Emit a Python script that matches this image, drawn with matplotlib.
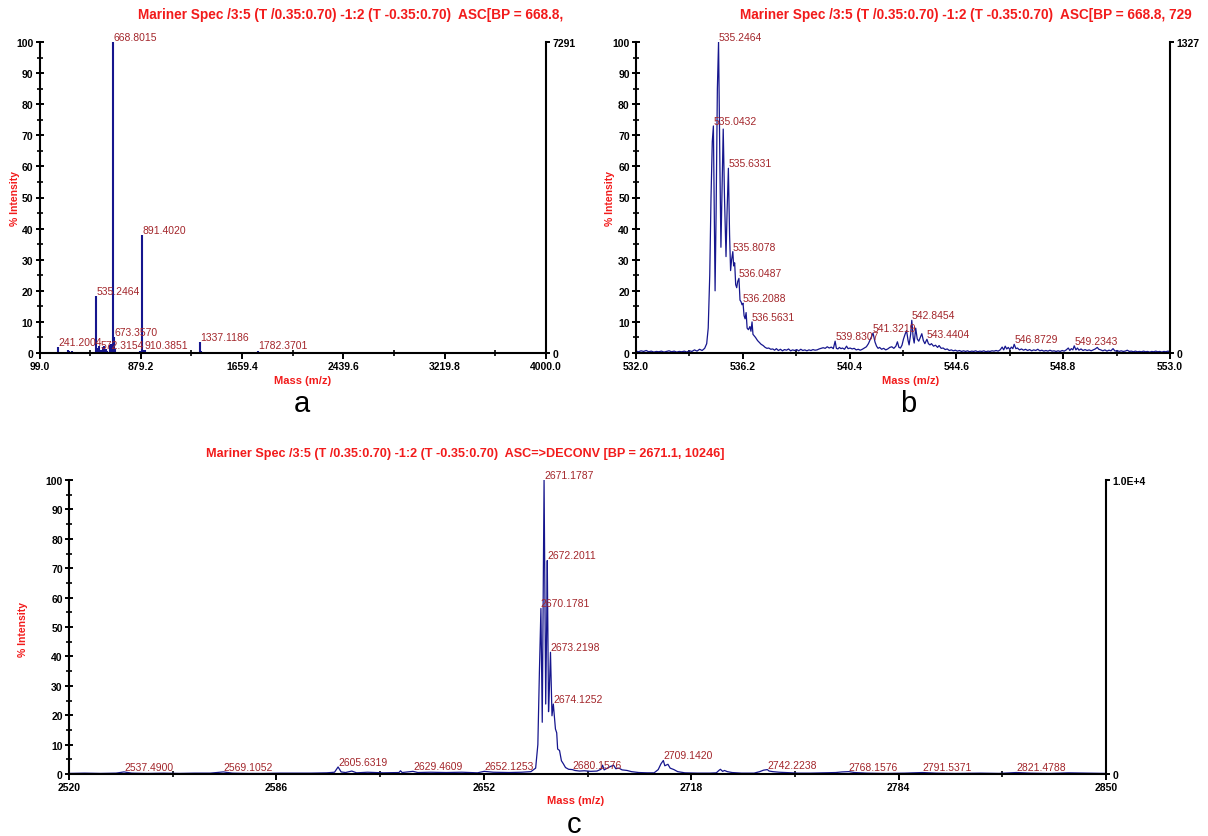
import numpy as np
import matplotlib
matplotlib.use("Agg")
import matplotlib.pyplot as plt
from matplotlib.ticker import FixedLocator, MultipleLocator

plt.rcParams['font.family'] = ['Liberation Sans', 'DejaVu Sans']

# ---------------- panel a: full-range centroid spectrum ----------------
a_title = "Mariner Spec /3:5 (T /0.35:0.70) -1:2 (T -0.35:0.70)  ASC[BP = 668.8,"
a_xlim = (99.0, 4000.0)
a_xticks = [99.0, 879.2, 1659.4, 2439.6, 3219.8, 4000.0]
a_right_label = "7291"
a_mz = [241.2004, 318.0, 330.0, 346.0, 392.0, 470.0, 535.2464, 541.0, 556.0,
        572.3154, 585.0, 597.0, 610.0, 622.0, 640.0, 652.0, 668.8015, 673.3570,
        680.0, 875.0, 891.4020, 897.0, 910.3851, 1337.1186, 1342.0, 1782.3701]
a_int = [1.8, 1.0, 0.7, 0.6, 0.3, 0.2, 18.4, 1.5, 2.4,
         1.0, 1.8, 2.2, 1.2, 0.8, 2.5, 3.0, 100.0, 5.0,
         1.2, 0.5, 37.9, 1.0, 1.0, 3.6, 0.6, 0.8]
a_labeled = [241.2004, 535.2464, 572.3154, 668.8015, 673.3570, 891.4020,
             910.3851, 1337.1186, 1782.3701]

# ---------------- panel b: zoom on the 535 isotope cluster ----------------
b_title = "Mariner Spec /3:5 (T /0.35:0.70) -1:2 (T -0.35:0.70)  ASC[BP = 668.8, 729"
b_xlim = (532.0, 553.0)
b_xticks = [532.0, 536.2, 540.4, 544.6, 548.8, 553.0]
b_right_label = "1327"
b_mz = [532.00, 532.10, 532.20, 532.30, 532.40, 532.50, 532.60, 532.70, 532.80, 532.90,
        533.00, 533.10, 533.20, 533.30, 533.40, 533.50, 533.60, 533.70, 533.80, 533.90,
        534.00, 534.10, 534.20, 534.30, 534.40, 534.50, 534.60, 534.70, 534.78, 534.84,
        534.90, 534.95, 535.00, 535.08, 535.11, 535.15, 535.20, 535.30, 535.34, 535.39,
        535.43, 535.48, 535.54, 535.58, 535.68, 535.72, 535.76, 535.84, 535.88, 535.92,
        535.96, 536.00, 536.09, 536.13, 536.17, 536.25, 536.29, 536.33, 536.37, 536.42,
        536.48, 536.52, 536.60, 536.65, 536.70, 536.78, 536.85, 536.92, 537.00, 537.08,
        537.15, 537.22, 537.30, 537.38, 537.45, 537.52, 537.60, 537.68, 537.76, 537.84,
        537.92, 538.00, 538.08, 538.16, 538.24, 538.32, 538.40, 538.48, 538.56, 538.64,
        538.72, 538.80, 538.88, 538.96, 539.04, 539.12, 539.20, 539.28, 539.36, 539.44,
        539.52, 539.60, 539.68, 539.76, 539.88, 539.94, 540.00, 540.06, 540.12, 540.20,
        540.28, 540.34, 540.42, 540.50, 540.58, 540.66, 540.74, 540.82, 540.90, 540.98,
        541.06, 541.14, 541.22, 541.40, 541.46, 541.52, 541.58, 541.66, 541.74, 541.82,
        541.90, 541.98, 542.06, 542.14, 542.22, 542.28, 542.34, 542.40, 542.46, 542.52,
        542.58, 542.64, 542.70, 542.74, 542.80, 542.90, 542.94, 543.00, 543.06, 543.12,
        543.18, 543.24, 543.30, 543.36, 543.50, 543.56, 543.62, 543.70, 543.78, 543.86,
        543.92, 544.00, 544.08, 544.16, 544.24, 544.32, 544.40, 544.48, 544.56, 544.64,
        544.72, 544.80, 544.88, 544.96, 545.04, 545.12, 545.20, 545.28, 545.36, 545.44,
        545.52, 545.60, 545.68, 545.76, 545.84, 545.92, 546.00, 546.08, 546.16, 546.24,
        546.32, 546.40, 546.46, 546.52, 546.58, 546.64, 546.70, 546.76, 546.82, 546.94,
        547.00, 547.08, 547.16, 547.24, 547.32, 547.40, 547.48, 547.56, 547.64, 547.72,
        547.80, 547.88, 547.96, 548.04, 548.12, 548.20, 548.28, 548.36, 548.44, 548.52,
        548.60, 548.68, 548.76, 548.84, 548.92, 549.00, 549.06, 549.12, 549.18, 549.30,
        549.36, 549.42, 549.50, 549.58, 549.66, 549.74, 549.82, 549.90, 549.98, 550.06,
        550.14, 550.20, 550.28, 550.36, 550.44, 550.52, 550.60, 550.68, 550.76, 550.84,
        550.92, 551.00, 551.08, 551.16, 551.24, 551.32, 551.40, 551.48, 551.56, 551.64,
        551.72, 551.80, 551.88, 551.96, 552.04, 552.12, 552.20, 552.28, 552.36, 552.44,
        552.52, 552.60, 552.68, 552.76, 552.84, 552.92, 553.00]
b_int = [0.6, 0.4, 0.7, 0.5, 0.8, 0.4, 0.6, 0.3, 0.5, 0.4,
         0.6, 0.3, 0.5, 0.7, 0.4, 0.6, 0.3, 0.5, 0.4, 0.6,
         0.3, 0.7, 0.5, 1.0, 0.6, 1.2, 0.8, 1.5, 3.0, 8.0,
         25.0, 50.0, 68.0, 45.0, 20.0, 45.0, 85.0, 60.0, 34.0, 55.0,
         72.0, 50.0, 31.0, 45.0, 38.0, 26.5, 30.0, 28.0, 29.0, 22.0,
         21.0, 23.0, 17.0, 16.5, 15.5, 12.0, 11.0, 13.0, 8.0, 7.5,
         8.5, 7.0, 6.0, 5.5, 5.0, 4.0, 3.4, 2.8, 2.4, 1.8,
         1.5, 1.6, 1.2, 1.3, 0.9, 1.4, 0.8, 1.2, 0.7, 1.1,
         0.9, 1.3, 0.7, 1.0, 0.8, 1.1, 0.7, 1.2, 0.8, 1.0,
         0.7, 1.0, 0.8, 1.1, 0.9, 1.0, 1.3, 1.5, 1.7, 1.5,
         2.0, 1.6, 1.9, 1.4, 1.5, 1.3, 1.8, 1.4, 1.6, 1.2,
         2.2, 1.4, 1.6, 1.3, 1.5, 1.0, 1.2, 0.9, 1.2, 1.6,
         2.0, 3.0, 4.5, 3.5, 2.2, 1.5, 1.8, 1.2, 1.5, 1.0,
         1.3, 1.8, 2.0, 1.5, 2.2, 3.6, 1.8, 1.6, 2.5, 4.5,
         6.0, 7.2, 4.0, 2.6, 6.0, 5.0, 3.2, 8.0, 4.5, 3.8,
         5.0, 6.2, 4.0, 3.0, 3.0, 2.6, 3.0, 2.2, 2.5, 1.8,
         2.4, 1.5, 1.6, 1.1, 1.3, 0.8, 1.0, 0.7, 0.9, 0.6,
         0.8, 0.5, 0.7, 0.5, 0.7, 0.4, 0.6, 0.5, 0.7, 0.4,
         0.6, 0.5, 0.7, 0.4, 0.6, 0.5, 0.7, 0.6, 0.8, 0.6,
         1.0, 1.9, 1.0, 2.2, 1.3, 1.8, 1.1, 1.9, 1.4, 1.4,
         1.6, 1.0, 1.3, 0.9, 1.2, 0.8, 1.1, 0.7, 1.0, 0.8,
         1.2, 0.7, 0.9, 0.6, 0.8, 0.6, 0.9, 0.6, 0.7, 0.5,
         0.7, 0.5, 0.8, 0.6, 1.0, 1.6, 0.8, 1.4, 1.0, 1.0,
         1.6, 0.9, 1.3, 0.8, 1.1, 0.8, 1.0, 0.7, 1.0, 1.3,
         1.8, 1.2, 1.0, 0.7, 1.0, 0.6, 0.9, 0.7, 1.4, 0.6,
         0.8, 0.5, 0.7, 0.5, 0.6, 0.9, 0.5, 0.6, 0.4, 0.6,
         0.4, 0.5, 0.4, 0.6, 0.4, 0.5, 0.3, 0.5, 0.4, 0.6,
         0.4, 0.5, 0.3, 0.5, 0.4, 0.6, 0.4]
b_peak_mz = [535.0432, 535.2464, 535.6331, 535.8078, 536.0487, 536.2088, 536.5631,
             539.8307, 541.3219, 542.8454, 543.4404, 546.8729, 549.2343]
b_peak_int = [73.0, 100.0, 59.4, 32.6, 24.0, 16.0, 10.0,
              3.8, 6.4, 10.5, 4.4, 2.8, 2.3]

# ---------------- panel c: deconvoluted spectrum ----------------
c_title = "Mariner Spec /3:5 (T /0.35:0.70) -1:2 (T -0.35:0.70)  ASC=>DECONV [BP = 2671.1, 10246]"
c_xlim = (2520, 2850)
c_xticks = [2520, 2586, 2652, 2718, 2784, 2850]
c_right_label = "1.0E+4"
c_mz = [2520, 2525, 2530, 2535, 2540, 2545, 2550, 2555, 2560, 2565,
        2572, 2577, 2582, 2587, 2592, 2597, 2602, 2604.5, 2606.6, 2608,
        2610, 2611.5, 2615, 2620, 2625, 2625.5, 2626, 2631, 2635, 2640,
        2645, 2650, 2655, 2660, 2664, 2667, 2668.5, 2669.2, 2669.7, 2670.6,
        2670.9, 2671.7, 2672.0, 2672.6, 2672.9, 2673.7, 2674.8, 2675.2, 2675.5, 2676.1,
        2676.7, 2677.3, 2678.0, 2679.0, 2681, 2682.5, 2684, 2686, 2688, 2689.3,
        2689.8, 2690.3, 2691.0, 2692.0, 2693.3, 2694.0, 2695.0, 2696.0, 2697.6, 2699,
        2701.3, 2704, 2706.2, 2707.5, 2708.4, 2709.6, 2710.0, 2710.6, 2711.3, 2712.5,
        2713.7, 2716, 2720, 2724, 2726, 2726.8, 2727.3, 2728.0, 2728.6, 2729.5,
        2731, 2734, 2738, 2739.8, 2741, 2742.8, 2744, 2746, 2748, 2752,
        2756, 2760, 2764, 2766, 2770, 2774, 2780, 2786, 2796, 2802,
        2810, 2816, 2826, 2832, 2838, 2844, 2850]
c_int = [0.2, 0.3, 0.2, 0.3, 0.3, 0.2, 0.3, 0.2, 0.3, 0.3,
         0.3, 0.2, 0.2, 0.3, 0.3, 0.3, 0.4, 0.6, 0.7, 0.5,
         1.0, 0.4, 0.6, 0.4, 0.5, 1.1, 0.5, 0.5, 0.6, 0.5,
         0.6, 0.4, 0.6, 0.5, 0.6, 0.8, 2.0, 10.0, 35.0, 17.6,
         60.0, 23.8, 50.0, 21.2, 30.0, 19.8, 15.3, 14.0, 8.5, 8.0,
         4.5, 3.5, 2.2, 1.6, 1.2, 1.0, 1.1, 0.9, 1.0, 1.6,
         3.0, 1.4, 1.8, 2.4, 3.0, 1.8, 2.0, 1.4, 1.2, 0.8,
         0.5, 0.4, 0.4, 1.5, 3.5, 2.8, 3.0, 3.3, 2.0, 1.5,
         0.8, 0.4, 0.3, 0.3, 0.4, 1.2, 1.6, 0.9, 1.2, 0.8,
         0.5, 0.3, 0.3, 0.8, 1.3, 1.0, 0.8, 0.6, 0.5, 0.3,
         0.3, 0.4, 0.5, 0.7, 0.5, 0.3, 0.2, 0.3, 0.3, 0.2,
         0.3, 0.2, 0.3, 0.2, 0.4, 0.3, 0.2]
c_peak_mz = [2537.4900, 2569.1052, 2605.6319, 2629.4609, 2652.1253, 2670.1781,
             2671.1787, 2672.2011, 2673.2198, 2674.1252, 2680.1576, 2709.1420,
             2742.2238, 2768.1576, 2791.5371, 2821.4788]
c_peak_int = [0.7, 0.7, 2.4, 0.9, 0.9, 56.3,
              100.0, 72.6, 41.4, 23.8, 1.5, 4.6,
              1.5, 0.8, 0.5, 0.5]

# ---------------- styling ----------------
W, H = 1208, 837
LINE = '#16168e'
LABEL = '#a3262b'
RED = '#f21b1b'
SPINE = 1.5


def fx(px):
    return px / W


def fy(py):
    return 1 - py / H


def make_axes(rect, xlim, xticks, xfmt, right_label):
    ax = fig.add_axes(rect)
    ax.set_xlim(*xlim)
    ax.set_ylim(0, 100)
    ax.spines['top'].set_visible(False)
    ax.spines['right'].set_visible(False)
    for s in ('left', 'bottom'):
        ax.spines[s].set_linewidth(SPINE)
    ax.xaxis.set_major_locator(FixedLocator(xticks))
    mids = [(xticks[i] + xticks[i + 1]) / 2 for i in range(len(xticks) - 1)]
    ax.xaxis.set_minor_locator(FixedLocator(mids))
    ax.set_xticklabels([xfmt.format(t) for t in xticks])
    ax.yaxis.set_major_locator(MultipleLocator(10))
    ax.yaxis.set_minor_locator(MultipleLocator(5))
    ax.tick_params(axis='x', which='major', direction='out', length=4, width=1.4,
                   labelsize=7.5, pad=1.5)
    ax.tick_params(axis='x', which='minor', direction='inout', length=4, width=1.2)
    ax.tick_params(axis='y', which='major', direction='inout', length=6, width=1.4,
                   labelsize=7.5, pad=1.5)
    ax.tick_params(axis='y', which='minor', direction='inout', length=4, width=1.2)
    for lab in ax.get_xticklabels() + ax.get_yticklabels():
        lab.set_fontweight('bold')

    ax2 = ax.twinx()
    ax2.set_ylim(0, 100)
    for s in ('left', 'top', 'bottom'):
        ax2.spines[s].set_visible(False)
    ax2.spines['right'].set_linewidth(SPINE)
    ax2.set_yticks([0, 100])
    ax2.set_yticklabels(['0', right_label])
    ax2.tick_params(axis='y', direction='out', length=3, width=1.4, labelsize=7.5, pad=1.5)
    for lab in ax2.get_yticklabels():
        lab.set_fontweight('bold')
    return ax


def label_peaks(ax, mz, inten):
    for m, v in zip(mz, inten):
        ax.annotate(f"{m:.4f}", (m, v), xytext=(0, 1.5), textcoords='offset points',
                    ha='left', va='baseline', fontsize=7.5, color=LABEL,
                    annotation_clip=False)


fig = plt.figure(figsize=(W / 100, H / 100), dpi=100)

# panel a
rect_a = [fx(39.5), fy(354), fx(546 - 39.5), (354 - 43) / H]
ax_a = make_axes(rect_a, a_xlim, a_xticks, "{:.1f}", a_right_label)
ax_a.vlines(a_mz, 0, a_int, color=LINE, linewidth=1.5)
lab_a_int = [a_int[a_mz.index(m)] for m in a_labeled]
label_peaks(ax_a, a_labeled, lab_a_int)

# panel b
rect_b = [fx(636), fy(354), fx(1170 - 636), (354 - 43) / H]
ax_b = make_axes(rect_b, b_xlim, b_xticks, "{:.1f}", b_right_label)
bx = np.array(b_mz + b_peak_mz)
by = np.array(b_int + b_peak_int)
order = np.argsort(bx)
ax_b.plot(bx[order], by[order], color=LINE, linewidth=0.9)
label_peaks(ax_b, b_peak_mz, b_peak_int)

# panel c
rect_c = [fx(69), fy(775), fx(1106 - 69), (775 - 481) / H]
ax_c = make_axes(rect_c, c_xlim, c_xticks, "{:.0f}", c_right_label)
cx = np.array(c_mz + c_peak_mz, dtype=float)
cy = np.array(c_int + c_peak_int)
order = np.argsort(cx)
ax_c.plot(cx[order], cy[order], color=LINE, linewidth=0.9)
label_peaks(ax_c, c_peak_mz, c_peak_int)

# titles, axis captions and panel letters
for txt, x, y, size in ((a_title, 138, 15, 9.8), (b_title, 740, 15, 9.8),
                        (c_title, 206, 454, 9.1)):
    fig.text(fx(x), fy(y), txt, ha='left', va='center', fontsize=size,
             fontweight='bold', color=RED)
for x, y in ((303, 381), (911, 381), (576, 801)):
    fig.text(fx(x), fy(y), "Mass (m/z)", ha='center', va='center', fontsize=8,
             fontweight='bold', color=RED)
for x, y in ((14.5, 198), (610, 198), (23, 630)):
    fig.text(fx(x), fy(y), "% Intensity", ha='center', va='center', fontsize=7.5,
             fontweight='bold', color=RED, rotation=90)
for letter, x, y in (("a", 302, 404), ("b", 908, 404), ("c", 574, 825)):
    fig.text(fx(x), fy(y), letter, ha='center', va='center', fontsize=21, color='black')

fig.savefig("out.png", dpi=100)
